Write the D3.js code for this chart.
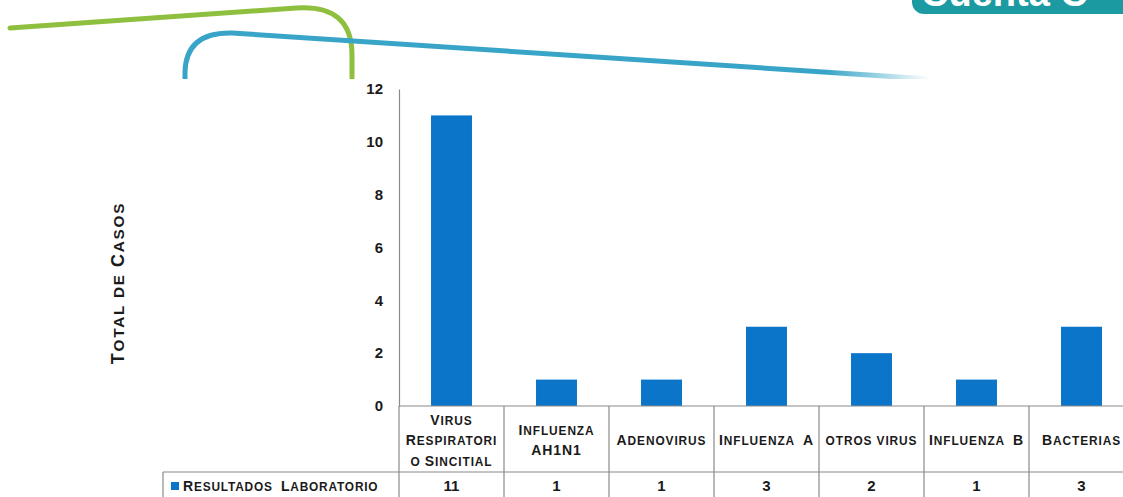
<!DOCTYPE html>
<html>
<head>
<meta charset="utf-8">
<script src="https://cdn.jsdelivr.net/npm/d3@7"></script>
<style>
  html, body { margin: 0; padding: 0; background: #fff; }
  svg { display: block; }
  text { font-family: "Liberation Sans", Arial, sans-serif; font-weight: bold; fill: #1a1a1a; white-space: pre; }
</style>
</head>
<body>
<svg id="chart" width="1123" height="497"></svg>
<script>
// Laboratory results by pathogen
const categories = [
  ["Virus", "Respiratori", "o Sincitial"],
  ["Influenza", "AH1N1"],
  ["Adenovirus"],
  ["Influenza  A"],
  ["otros virus"],
  ["Influenza  B"],
  ["Bacterias"]
];
const categoryKeys = ["VRS", "AH1N1", "Adenovirus", "InfA", "Otros", "InfB", "Bacterias"];
const values = [11, 1, 1, 3, 2, 1, 3];
const yTicks = [0, 2, 4, 6, 8, 10, 12];
const seriesName = "Resultados  Laboratorio";
const yTitle = "Total de Casos";

const svg = d3.select("#chart");
const W = 1123, H = 497;
const defs = svg.append("defs");

// Small-caps writer: capitals and digits stay full size, lowercase letters
// become capitals at a reduced size.
function smallCaps(textSel, str, size, ratio) {
  const runs = [];
  for (const ch of str) {
    const small = ch !== ch.toUpperCase();
    const last = runs[runs.length - 1];
    if (ch === " " && last) { last.s += ch; continue; }
    if (last && last.small === small) last.s += ch;
    else runs.push({ small, s: ch });
  }
  runs.forEach(r => {
    textSel.append("tspan")
      .style("font-size", (r.small ? size * ratio : size) + "px")
      .text(r.small ? r.s.toUpperCase() : r.s);
  });
  return textSel;
}

// Decorative header swooshes
const deco = svg.append("g");
deco.append("path")
  .attr("d", "M10,28 L296,8 Q352,4 352,55 L352,80")
  .attr("fill", "none").attr("stroke", "#8fbf3f").attr("stroke-width", 5)
  .attr("stroke-linecap", "round");
const grad = defs.append("linearGradient")
  .attr("id", "fade").attr("gradientUnits", "userSpaceOnUse")
  .attr("x1", 185).attr("x2", 930).attr("y1", 0).attr("y2", 0);
grad.append("stop").attr("offset", "0.86").attr("stop-color", "#38a4c7").attr("stop-opacity", 1);
grad.append("stop").attr("offset", "1").attr("stop-color", "#38a4c7").attr("stop-opacity", 0);
deco.append("path")
  .attr("d", "M185,80 L185,72 Q186,32 232,33 L930,79")
  .attr("fill", "none").attr("stroke", "url(#fade)").attr("stroke-width", 5);

// Logo tab, top right
defs.append("clipPath").attr("id", "logoClip")
  .append("rect").attr("x", 900).attr("y", 0).attr("width", 223).attr("height", 14);
const logo = svg.append("g");
logo.append("rect").attr("x", 912).attr("y", -30).attr("width", 260).attr("height", 44)
  .attr("rx", 12).attr("fill", "#1b9aa1");
logo.append("text").attr("x", 921).attr("y", 6).attr("clip-path", "url(#logoClip)")
  .style("font-size", "38px").style("fill", "#fff")
  .text("Cuenta C");

// White panel under the decorations
svg.append("rect").attr("x", 0).attr("y", 79).attr("width", W).attr("height", H - 79).attr("fill", "#fff");

// Scales
const x = d3.scaleBand().domain(categoryKeys).range([399, 399 + 105 * 7])
  .paddingInner(0.61).paddingOuter(0.305);
const y = d3.scaleLinear().domain([0, 12]).range([406, 89]);

// Bars
svg.append("g").selectAll("rect").data(values).join("rect")
  .attr("x", (d, i) => x(categoryKeys[i]))
  .attr("y", d => y(d))
  .attr("width", x.bandwidth())
  .attr("height", d => y(0) - y(d))
  .attr("fill", "#0a75c9");

// Y axis
const yAxis = svg.append("g").attr("transform", "translate(399,0)")
  .call(d3.axisLeft(y).tickValues(yTicks).tickSize(0).tickPadding(16));
yAxis.select(".domain").attr("stroke", "#8a8a8a").attr("stroke-width", 1.2);
yAxis.selectAll("text").style("font-size", "15px").style("font-family", "Liberation Sans, Arial, sans-serif")
  .style("font-weight", "bold").attr("fill", "#1a1a1a");

smallCaps(svg.append("text")
  .attr("transform", "translate(124,283) rotate(-90)")
  .attr("text-anchor", "middle").style("letter-spacing", "1.8px"),
  yTitle, 18, 0.85);

// Data table beneath the axis
const step = x.step();
const x0 = 399;
const tableLeft = 163, rowTop = 406, rowMid = 472;
const grid = svg.append("g").attr("stroke", "#8a8a8a").attr("stroke-width", 1.2);
grid.append("line").attr("x1", x0).attr("x2", W).attr("y1", rowTop).attr("y2", rowTop);
grid.append("line").attr("x1", tableLeft).attr("x2", W).attr("y1", rowMid).attr("y2", rowMid);
grid.append("line").attr("x1", tableLeft).attr("x2", tableLeft).attr("y1", rowMid).attr("y2", H);
d3.range(0, 8).forEach(i => {
  grid.append("line").attr("x1", x0 + i * step).attr("x2", x0 + i * step)
    .attr("y1", rowTop).attr("y2", H);
});

// Category labels
categories.forEach((lines, i) => {
  const cx = x(categoryKeys[i]) + x.bandwidth() / 2;
  const lh = 20.5;
  const startY = 440 - (lines.length - 1) * lh / 2 + 5;
  lines.forEach((ln, j) => {
    smallCaps(svg.append("text").attr("text-anchor", "middle")
      .attr("x", cx).attr("y", startY + j * lh).style("letter-spacing", "0.9px"),
      ln, 14, 0.85);
  });
});

// Value row
svg.append("g").selectAll("text").data(values).join("text")
  .attr("x", (d, i) => x(categoryKeys[i]) + x.bandwidth() / 2)
  .attr("y", 491).attr("text-anchor", "middle").style("font-size", "15px")
  .text(d => d);

// Legend key
svg.append("rect").attr("x", 171).attr("y", 482).attr("width", 8).attr("height", 8).attr("fill", "#0a75c9");
smallCaps(svg.append("text").attr("x", 183).attr("y", 491).style("letter-spacing", "0.8px"),
  seriesName, 14, 0.85);
</script>
</body>
</html>
